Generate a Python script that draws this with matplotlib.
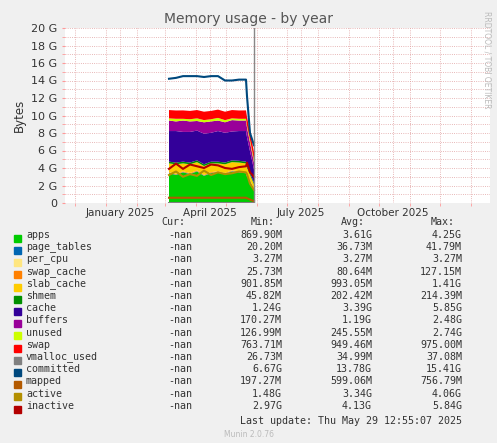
import matplotlib
matplotlib.use("Agg")
import matplotlib.pyplot as plt
import matplotlib.dates as mdates
import numpy as np
import datetime as dt

dates = [dt.date(2025,3,5)+dt.timedelta(days=7*i) for i in range(12)] + [dt.date(2025,5,22), dt.date(2025,5,25), dt.date(2025,5,29)]
G = 1.0
apps =        [3.4,3.2,3.5,3.3,3.6,3.1,3.4,3.5,3.3,3.6,3.5,3.4,3.0,2.5,1.5]
page_tables = [0.04]*15
per_cpu =     [0.003]*15
swap_cache =  [0.08]*15
slab_cache =  [1.0,1.1,0.9,1.0,0.95,1.0,1.0,0.9,1.0,0.95,1.0,1.0,0.9,0.6,0.5]
shmem =       [0.2]*15
cache =       [3.5,3.6,3.4,3.5,3.4,3.5,3.3,3.5,3.4,3.3,3.4,3.5,3.3,2.5,1.5]
buffers =     [1.2,1.1,1.3,1.2,1.1,1.3,1.3,1.2,1.2,1.3,1.2,1.2,1.1,1.0,0.8]
unused =      [0.25,0.3,0.2,0.25,0.3,0.25,0.25,0.3,0.25,0.2,0.2,0.2,0.25,0.3,0.3]
swap =        [0.95,0.95,0.96,0.95,0.95,0.96,0.95,0.95,0.96,0.95,0.95,0.96,0.95,0.9,0.9]
vmalloc_used =[0.035]*15
committed =   [14.2,14.3,14.5,14.5,14.5,14.4,14.5,14.5,14.0,14.0,14.1,14.1,12.2,8.0,6.6]
mapped =      [0.6,0.6,0.6,0.6,0.6,0.6,0.6,0.6,0.6,0.6,0.6,0.6,0.55,0.4,0.2]
active =      [3.2,3.6,3.0,3.3,3.1,3.7,3.2,3.5,3.3,3.4,3.6,3.5,3.3,2.2,1.5]
inactive =    [3.9,4.5,3.9,4.4,4.2,4.0,4.4,4.3,4.0,3.9,4.1,4.2,4.6,3.5,3.0]

names = ["apps","page_tables","per_cpu","swap_cache","slab_cache","shmem","cache","buffers","unused","swap","vmalloc_used","committed","mapped","active","inactive"]
colors = ["#00CC00","#0066B3","#FFE680","#FF8000","#FFCC00","#008F00","#330099","#990099","#CCFF00","#FF0000","#808080","#00487D","#B35A00","#B38F00","#B30000"]
cur = ["-nan"]*15
mins = ["869.90M","20.20M","3.27M","25.73M","901.85M","45.82M","1.24G","170.27M","126.99M","763.71M","26.73M","6.67G","197.27M","1.48G","2.97G"]
avgs = ["3.61G","36.73M","3.27M","80.64M","993.05M","202.42M","3.39G","1.19G","245.55M","949.46M","34.99M","13.78G","599.06M","3.34G","4.13G"]
maxs = ["4.25G","41.79M","3.27M","127.15M","1.41G","214.39M","5.85G","2.48G","2.74G","975.00M","37.08M","15.41G","756.79M","4.06G","5.84G"]

W,H = 497,443
fig = plt.figure(figsize=(W/100,H/100), dpi=100, facecolor="#F0F0F0")
ax = fig.add_axes([65/W, 1-203/H, 425/W, 175/H], facecolor="white")
x = mdates.date2num(dates)
stack = [apps,page_tables,per_cpu,swap_cache,slab_cache,shmem,cache,buffers,unused,swap]
ax.stackplot(x, *stack, colors=colors[:10], linewidth=0)
for s,c in zip([vmalloc_used,committed,mapped,active,inactive], colors[10:]):
    ax.plot(x, s, color=c, lw=1.5)
x0 = mdates.date2num(dt.date(2024,11,21)); x1 = x0+425
ax.set_xlim(x0,x1); ax.set_ylim(0,20)
ax.set_yticks(range(0,21,2))
ax.set_yticklabels(["0"]+[f"{v} G" for v in range(2,21,2)], fontsize=8, color="#333")
ax.set_yticks(np.arange(0,20.1,1), minor=True)
mt = [mdates.date2num(dt.date(y,m,1)) for y,m in [(2024,12),(2025,1),(2025,2),(2025,3),(2025,4),(2025,5),(2025,6),(2025,7),(2025,8),(2025,9),(2025,10),(2025,11),(2025,12),(2026,1)]]
ax.set_xticks(mt, minor=True)
ax.set_xticks([mdates.date2num(dt.date(y,m,15)) for y,m in [(2025,1),(2025,4),(2025,7),(2025,10)]])
ax.set_xticklabels(["January 2025","April 2025","July 2025","October 2025"], fontsize=7.5, color="#333")
ax.tick_params(axis="x", which="major", length=0)
ax.tick_params(which="minor", length=2, color="#f99")
ax.tick_params(axis="y", length=2, color="#f99")
ax.grid(True, which="both", color="#e0a0a0", ls=":", lw=0.6)
ax.set_axisbelow(True)
for sp in ax.spines.values(): sp.set_visible(False)
ax.axvline(mdates.date2num(dt.date(2025,5,29)), color="#888", lw=1)
ax.set_ylabel("Bytes", fontsize=8.5, color="#333")
fig.text(0.5, 1-19/H, "Memory usage - by year", ha="center", va="center", fontsize=10, color="#555")
fig.text(487/W, 1-60/H, "RRDTOOL / TOBI OETIKER", rotation=270, fontsize=5.5, color="#bbb", ha="center", va="center")
fs=7.2; mono="DejaVu Sans Mono"
y0=225
fig.text(185/W,1-y0/H,"Cur:",ha="right",fontsize=fs,family=mono,color="#333")
fig.text(275/W,1-y0/H,"Min:",ha="right",fontsize=fs,family=mono,color="#333")
fig.text(365/W,1-y0/H,"Avg:",ha="right",fontsize=fs,family=mono,color="#333")
fig.text(455/W,1-y0/H,"Max:",ha="right",fontsize=fs,family=mono,color="#333")
for i,n in enumerate(names):
    yy = 1-(240+i*12.2)/H
    fig.patches.append(plt.Rectangle((14/W,yy-0.004),7/W,7/H,transform=fig.transFigure,color=colors[i]))
    fig.text(26/W,yy,n,fontsize=fs,family=mono,color="#333",va="bottom")
    fig.text(192/W,yy,cur[i],ha="right",fontsize=fs,family=mono,color="#333",va="bottom")
    fig.text(282/W,yy,mins[i],ha="right",fontsize=fs,family=mono,color="#333",va="bottom")
    fig.text(372/W,yy,avgs[i],ha="right",fontsize=fs,family=mono,color="#333",va="bottom")
    fig.text(462/W,yy,maxs[i],ha="right",fontsize=fs,family=mono,color="#333",va="bottom")
fig.text(462/W,1-424/H,"Last update: Thu May 29 12:55:07 2025",ha="right",fontsize=fs,family=mono,color="#333")
fig.text(0.5,1-437/H,"Munin 2.0.76",ha="center",fontsize=5.5,color="#bbb")
fig.savefig("out.png", dpi=100, facecolor=fig.get_facecolor())
